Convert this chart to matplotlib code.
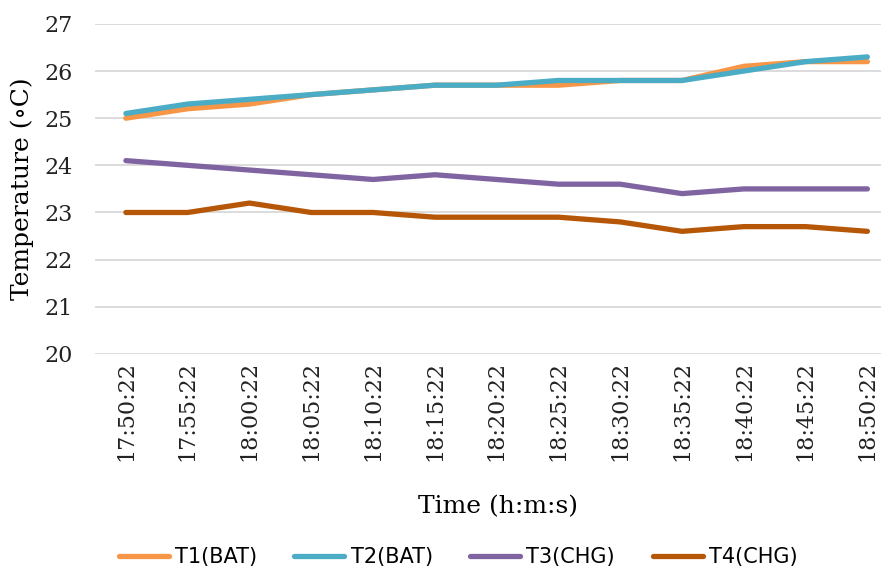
import matplotlib
matplotlib.use('Agg')
import matplotlib.pyplot as plt

times = ['17:50:22', '17:55:22', '18:00:22', '18:05:22', '18:10:22', '18:15:22', '18:20:22',
         '18:25:22', '18:30:22', '18:35:22', '18:40:22', '18:45:22', '18:50:22']
t1_bat = [25.0, 25.2, 25.3, 25.5, 25.6, 25.7, 25.7, 25.7, 25.8, 25.8, 26.1, 26.2, 26.2]
t2_bat = [25.1, 25.3, 25.4, 25.5, 25.6, 25.7, 25.7, 25.8, 25.8, 25.8, 26.0, 26.2, 26.3]
t3_chg = [24.1, 24.0, 23.9, 23.8, 23.7, 23.8, 23.7, 23.6, 23.6, 23.4, 23.5, 23.5, 23.5]
t4_chg = [23.0, 23.0, 23.2, 23.0, 23.0, 22.9, 22.9, 22.9, 22.8, 22.6, 22.7, 22.7, 22.6]
y_ticks = [20, 21, 22, 23, 24, 25, 26, 27]

serif = ['DejaVu Serif']
fig = plt.figure(figsize=(8.81, 5.69), dpi=100)
ax = fig.add_axes([95/881, 0.378, 1 - 95/881, 0.958 - 0.378])

x = range(len(times))
series = [(t1_bat, 'T1(BAT)', '#F79646'),
          (t2_bat, 'T2(BAT)', '#4BACC6'),
          (t3_chg, 'T3(CHG)', '#8064A2'),
          (t4_chg, 'T4(CHG)', '#B65708')]
for vals, name, col in series:
    ax.plot(x, vals, color=col, lw=3.8, label=name, solid_capstyle='round', solid_joinstyle='round')

ax.set_ylim(20, 27)
ax.set_xlim(-0.5, 12.22)
ax.set_yticks(y_ticks)
ax.set_xticks(list(x))
ax.set_xticklabels(times, rotation=90, fontsize=16, family=serif)
for lab in ax.get_yticklabels():
    lab.set_family(serif)
    lab.set_fontsize(16)
ax.tick_params(axis='y', length=0, colors='#222222', pad=16)
ax.tick_params(axis='x', length=0, colors='#222222', pad=5)
ax.yaxis.grid(True, color='#D9D9D9', lw=1.3)
ax.set_axisbelow(True)
for s in ax.spines.values():
    s.set_visible(False)

ax.set_ylabel('Temperature (\u2218C)', fontsize=18, family=serif)
ax.yaxis.set_label_coords(-(95 - 34) / 786, 0.5)
ax.set_xlabel('Time (h:m:s)', fontsize=18, family=serif)
ax.xaxis.set_label_coords(0.5 + (498 - 488) / 786, -(495 - 354) / 330)

leg = fig.legend(loc='center', bbox_to_anchor=(458/881, 1 - 557/569), ncol=4, frameon=False,
                 prop={'family': ['DejaVu Sans'], 'size': 15},
                 handlelength=2.4, handletextpad=0.3, columnspacing=1.8)

fig.savefig('out.png', dpi=100, facecolor='white')
